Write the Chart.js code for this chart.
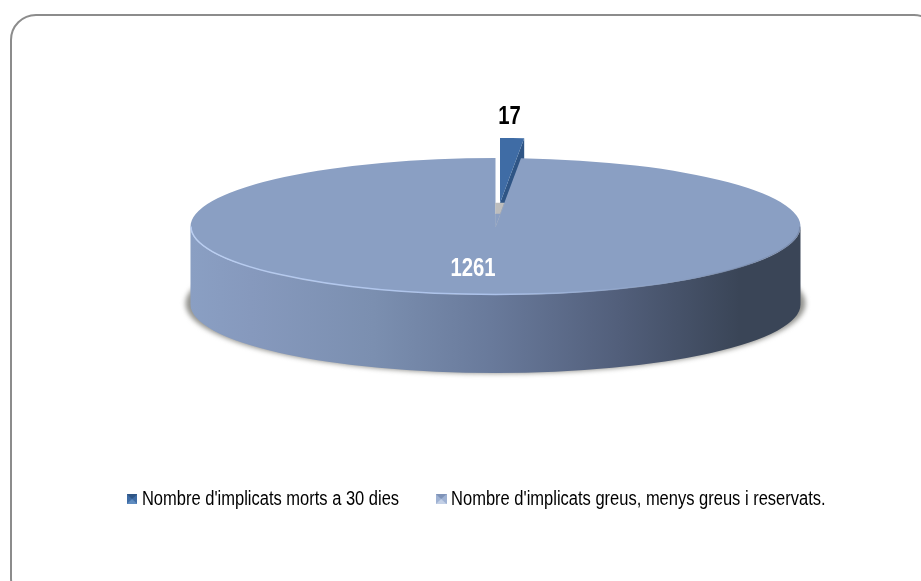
<!DOCTYPE html>
<html>
<head>
<meta charset="utf-8">
<script src="https://cdn.jsdelivr.net/npm/chart.js@4/dist/chart.umd.js"></script>
<style>
  html, body { margin: 0; padding: 0; background: #fff; overflow: hidden; }
  #wrap { position: relative; width: 921px; height: 581px; overflow: hidden; }
  #frame { position: absolute; left: 10px; top: 14px; width: 930px; height: 590px; box-sizing: border-box;
           border: 2px solid #8c8c8c; border-radius: 26px; }
  canvas { position: absolute; left: 0; top: 0; }
</style>
</head>
<body>
<div id="wrap">
  <div id="frame"></div>
  <!-- wider than the window so the legend stays on one row before it is squeezed -->
  <canvas id="pie" width="1100" height="581"></canvas>
</div>
<script>
const categories = ["Nombre d'implicats morts a 30 dies", "Nombre d'implicats greus, menys greus i reservats."];
const values = [17, 1261];
const sliceColors = ['#3f6ca5', '#8a9fc3'];

// the tilted disc: Chart.js draws a flat pie, the plugin squashes it
const tilt = 0.2246;
const depth = 78;
const centerX = 495.5;
const centerY = 226.5;
const explodeX = 4.5;
const explodeY = -23.5 / tilt;

// the reference text is tall and narrow, no narrow font here so squeeze it
const legendSqueeze = 0.825;
const legendCenter = 478;
const labelSqueeze = 0.78;

function bevelMarker(base, light, dark) {
  const c = document.createElement('canvas');
  c.width = 13; c.height = 10;
  const g = c.getContext('2d');
  g.fillStyle = base; g.fillRect(0, 0, 13, 10);
  g.fillStyle = light;
  g.beginPath(); g.moveTo(0, 0); g.lineTo(13, 0); g.lineTo(6.5, 5); g.closePath(); g.fill();
  g.fillStyle = dark;
  g.beginPath(); g.moveTo(0, 10); g.lineTo(13, 10); g.lineTo(6.5, 5); g.closePath(); g.fill();
  return c;
}
const markers = [bevelMarker('#3f6ca5', '#2f5585', '#5f8cc0'), bevelMarker('#9fb2d3', '#7f93b8', '#c3d0e6')];

function squeezedLabel(ctx, text, x, y, color) {
  ctx.save();
  ctx.translate(x, y);
  ctx.scale(labelSqueeze, 1);
  ctx.fillStyle = color;
  ctx.fillText(text, 0, 0);
  ctx.restore();
}

const pie3d = {
  id: 'pie3d',
  afterLayout(chart) {
    const legend = chart.legend;
    if (legend._squeezed) return;
    legend._squeezed = true;
    const draw = legend.draw;
    legend.draw = function () {
      const ctx = chart.ctx;
      ctx.save();
      ctx.translate(legendCenter, 0);
      ctx.scale(legendSqueeze, 1);
      ctx.translate(-chart.width / 2, 0);
      draw.call(legend);
      ctx.restore();
    };
  },
  afterDatasetsUpdate(chart) {
    const arcs = chart.getDatasetMeta(0).data;
    arcs[0].x = arcs[1].x + explodeX;
    arcs[0].y = arcs[1].y + explodeY;
    arcs[0].outerRadius = arcs[1].outerRadius * 0.95;
  },
  beforeDatasetsDraw(chart) {
    const ctx = chart.ctx;
    const arcs = chart.getDatasetMeta(0).data;
    const rx = arcs[1].outerRadius;
    const ry = rx * tilt;

    ctx.save();
    // soft shadow under the disc
    ctx.save();
    ctx.filter = 'blur(2.5px)';
    ctx.fillStyle = 'rgba(120,120,115,0.8)';
    ctx.beginPath();
    ctx.ellipse(centerX, centerY + depth - 1, rx + 5, ry + 1.5, 0, 0, Math.PI * 2);
    ctx.fill();
    ctx.restore();

    // side wall
    const wall = ctx.createLinearGradient(centerX - rx, 0, centerX + rx, 0);
    wall.addColorStop(0, '#8a9fc3');
    wall.addColorStop(0.1, '#8699bd');
    wall.addColorStop(0.3, '#7b8fb0');
    wall.addColorStop(0.5, '#68799a');
    wall.addColorStop(0.7, '#525f7b');
    wall.addColorStop(0.9, '#3a4557');
    wall.addColorStop(1, '#3a4557');
    ctx.fillStyle = wall;
    ctx.beginPath();
    ctx.ellipse(centerX, centerY, rx, ry, 0, 0, Math.PI);
    ctx.lineTo(centerX - rx, centerY + depth);
    ctx.ellipse(centerX, centerY + depth, rx, ry, 0, Math.PI, 0, true);
    ctx.closePath();
    ctx.fill();

    // wall of the pulled out slice, the big slice covers most of it
    const small = arcs[0];
    const sx = centerX + explodeX;
    const sy = centerY - 23.5;
    const ex = sx + Math.cos(small.endAngle) * small.outerRadius;
    const ey = sy + Math.sin(small.endAngle) * small.outerRadius * tilt;
    ctx.fillStyle = '#2f5585';
    ctx.beginPath();
    ctx.moveTo(sx, sy);
    ctx.lineTo(ex, ey);
    ctx.lineTo(ex, ey + depth);
    ctx.lineTo(sx, sy + depth);
    ctx.closePath();
    ctx.fill();
    ctx.restore();

    ctx.save();
    ctx.translate(centerX, centerY);
    ctx.scale(1, tilt);
    ctx.translate(-arcs[1].x, -arcs[1].y);
  },
  afterDatasetsDraw(chart) {
    const ctx = chart.ctx;
    ctx.restore();
    const arcs = chart.getDatasetMeta(0).data;
    const rx = arcs[1].outerRadius;
    const ry = rx * tilt;

    // the notch stops short of the centre: close its tip, grey just above it
    const lean = Math.tan(arcs[0].circumference) / tilt;
    const notchTip = (h, color) => {
      ctx.fillStyle = color;
      ctx.strokeStyle = color;
      ctx.lineWidth = 0.5;
      ctx.beginPath();
      ctx.moveTo(centerX, centerY);
      ctx.lineTo(centerX, centerY - h);
      ctx.lineTo(centerX + h * lean, centerY - h);
      ctx.closePath();
      ctx.fill();
      ctx.stroke();
    };
    notchTip(23.5, '#bdbdbd');
    notchTip(12.5, sliceColors[1]);

    // light rim along the front of the top face
    const rim = ctx.createLinearGradient(centerX - rx, 0, centerX + rx, 0);
    rim.addColorStop(0, 'rgba(190,210,245,0.9)');
    rim.addColorStop(0.5, 'rgba(175,197,238,0.9)');
    rim.addColorStop(0.8, 'rgba(138,159,195,0.5)');
    rim.addColorStop(1, 'rgba(90,105,135,0.4)');
    ctx.strokeStyle = rim;
    ctx.lineWidth = 1.5;
    ctx.beginPath();
    ctx.ellipse(centerX, centerY, rx - 0.5, ry - 0.5, 0, 0, Math.PI);
    ctx.stroke();

    ctx.save();
    ctx.font = 'bold 26px "Liberation Sans"';
    ctx.textAlign = 'center';
    ctx.textBaseline = 'middle';
    squeezedLabel(ctx, String(values[0]), centerX + 14, centerY - 109.5, '#000');
    squeezedLabel(ctx, String(values[1]), centerX - 22.5, centerY + 42.5, '#fff');
    ctx.restore();
  }
};

new Chart(document.getElementById('pie').getContext('2d'), {
  type: 'pie',
  plugins: [pie3d],
  data: {
    labels: categories,
    datasets: [{ data: values, backgroundColor: sliceColors, borderWidth: 0, clip: false }]
  },
  options: {
    responsive: false,
    animation: false,
    events: [],
    rotation: 0,
    radius: 305,
    layout: { padding: { bottom: 62 } },
    plugins: {
      tooltip: { enabled: false },
      legend: {
        position: 'bottom',
        labels: {
          color: '#000',
          font: { family: '"Liberation Sans"', size: 20 },
          boxWidth: 4,
          padding: 49,
          usePointStyle: true,
          generateLabels: chart => chart.data.labels.map((text, i) => ({
            text, index: i, pointStyle: markers[i], hidden: false, lineWidth: 0
          }))
        }
      }
    }
  }
});
</script>
</body>
</html>
